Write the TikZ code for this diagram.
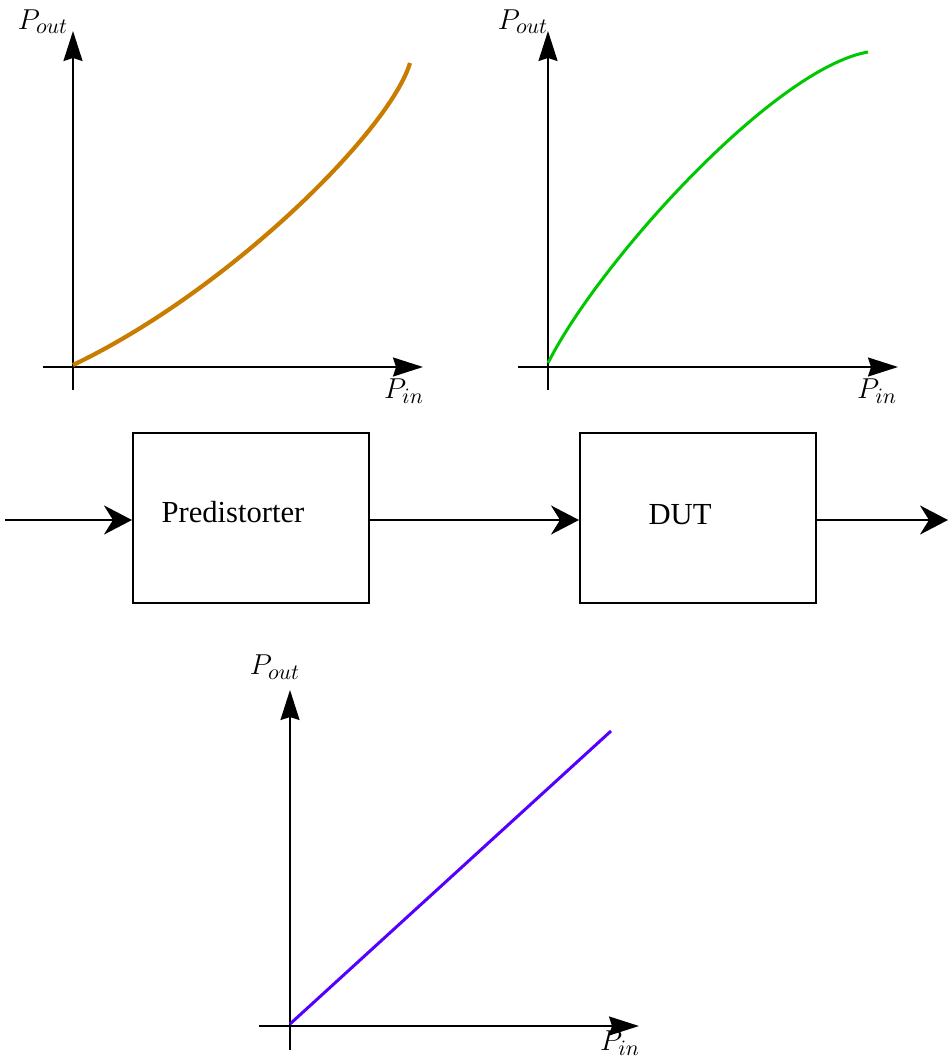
\documentclass[tikz,border=0pt]{standalone}
\usepackage{fontspec}
\newfontfamily\boxfont{Liberation Serif}
\usetikzlibrary{arrows.meta}
\definecolor{corange}{RGB}{200,125,0}
\definecolor{cgreen}{RGB}{0,200,0}
\definecolor{cpurple}{RGB}{85,0,255}
\tikzset{
  axis/.style={line width=1pt,-{Stealth[length=15pt,width=9.5pt,inset=1.5pt]}},
  flow/.style={line width=1.2pt,-{Stealth[length=14pt,width=14.5pt,inset=4.5pt]}},
  blk/.style={draw,line width=1pt,rectangle,minimum width=118pt,minimum height=85pt,inner sep=0pt},
  lbl/.style={inner sep=0pt,font=\fontsize{15.5}{18}\selectfont},
  btxt/.style={inner sep=0pt,font=\boxfont\fontsize{15.3}{18}\selectfont}
}
\begin{document}
\begin{tikzpicture}[x=0.5pt,y=-0.5pt]
\useasboundingbox (0,0) rectangle (951,1059);
% top-left plot
\coordinate (a1b) at (73,390); \coordinate (a1t) at (73,31);
\coordinate (a1l) at (43,367); \coordinate (a1r) at (423,367);
\draw[axis] (a1b) -- (a1t);
\draw[axis] (a1l) -- (a1r);
\coordinate (c1s) at (73,365); \coordinate (c1e) at (410,63);
\draw[corange,line width=2.1pt] (c1s) .. controls (230,290) and (390,130) .. (c1e);
\node[lbl] (po1) at (43,22) {$P_{out}$};
\node[lbl] (pi1) at (404,391) {$P_{in}$};
% top-right plot
\coordinate (a2b) at (548,390); \coordinate (a2t) at (548,31);
\coordinate (a2l) at (518,367); \coordinate (a2r) at (898,367);
\draw[axis] (a2b) -- (a2t);
\draw[axis] (a2l) -- (a2r);
\coordinate (c2s) at (548,363); \coordinate (c2e) at (868,52);
\draw[cgreen,line width=1.5pt] (c2s) .. controls (600,260) and (775,68) .. (c2e);
\node[lbl] (po2) at (523,22) {$P_{out}$};
\node[lbl] (pi2) at (877,391) {$P_{in}$};
% blocks
\node[blk] (pre) at (251,518) {};
\node[blk] (dut) at (698,518) {};
\node[btxt] (pret) at (233,512) {Predistorter};
\node[btxt] (dutt) at (680,515) {DUT};
\coordinate (in) at (5,520);
\coordinate (out) at (948,520);
\draw[flow] (in) -- (pre.west |- in);
\draw[flow] (pre.east |- in) -- (dut.west |- in);
\draw[flow] (dut.east |- in) -- (out);
% bottom plot
\coordinate (a3b) at (290,1050); \coordinate (a3t) at (290,690);
\coordinate (a3l) at (259,1026); \coordinate (a3r) at (639,1026);
\draw[axis] (a3b) -- (a3t);
\draw[axis] (a3l) -- (a3r);
\coordinate (c3s) at (290,1024); \coordinate (c3e) at (611,731);
\draw[cpurple,line width=1.5pt] (c3s) -- (c3e);
\node[lbl] (po3) at (275,667) {$P_{out}$};
\node[lbl] (pi3) at (620,1043) {$P_{in}$};
\end{tikzpicture}
\end{document}
